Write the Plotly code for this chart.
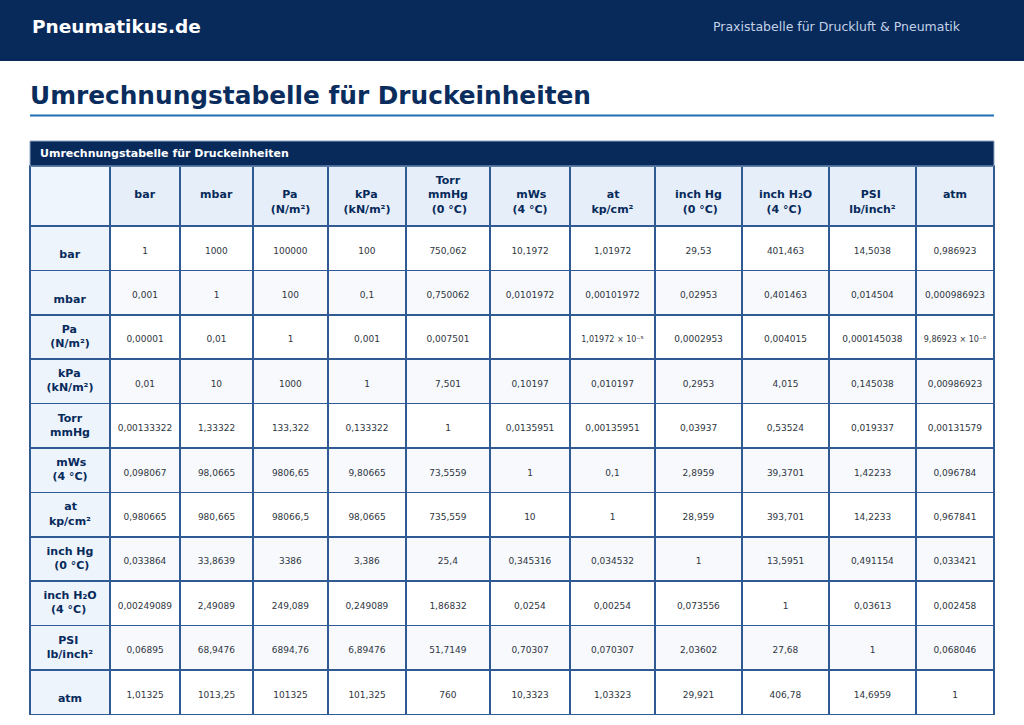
import plotly.graph_objects as go

# Einheiten (Spalten- und Zeilenköpfe)
col_units = ["bar", "mbar", "Pa<br>(N/m²)", "kPa<br>(kN/m²)", "Torr<br>mmHg<br>(0 °C)",
             "mWs<br>(4 °C)", "at<br>kp/cm²", "inch Hg<br>(0 °C)", "inch H₂O<br>(4 °C)",
             "PSI<br>lb/inch²", "atm"]
row_units = ["bar", "mbar", "Pa<br>(N/m²)", "kPa<br>(kN/m²)", "Torr<br>mmHg",
             "mWs<br>(4 °C)", "at<br>kp/cm²", "inch Hg<br>(0 °C)", "inch H₂O<br>(4 °C)",
             "PSI<br>lb/inch²", "atm"]

# Umrechnungsfaktoren, zeilenweise
bar_row = ["1", "1000", "100000", "100", "750,062", "10,1972", "1,01972", "29,53", "401,463", "14,5038", "0,986923"]
mbar_row = ["0,001", "1", "100", "0,1", "0,750062", "0,0101972", "0,00101972", "0,02953", "0,401463", "0,014504", "0,000986923"]
pa_row = ["0,00001", "0,01", "1", "0,001", "0,007501", "", "1,01972 × 10⁻⁵", "0,0002953", "0,004015", "0,000145038", "9,86923 × 10⁻⁶"]
kpa_row = ["0,01", "10", "1000", "1", "7,501", "0,10197", "0,010197", "0,2953", "4,015", "0,145038", "0,00986923"]
torr_row = ["0,00133322", "1,33322", "133,322", "0,133322", "1", "0,0135951", "0,00135951", "0,03937", "0,53524", "0,019337", "0,00131579"]
mws_row = ["0,098067", "98,0665", "9806,65", "9,80665", "73,5559", "1", "0,1", "2,8959", "39,3701", "1,42233", "0,096784"]
at_row = ["0,980665", "980,665", "98066,5", "98,0665", "735,559", "10", "1", "28,959", "393,701", "14,2233", "0,967841"]
inhg_row = ["0,033864", "33,8639", "3386", "3,386", "25,4", "0,345316", "0,034532", "1", "13,5951", "0,491154", "0,033421"]
inh2o_row = ["0,00249089", "2,49089", "249,089", "0,249089", "1,86832", "0,0254", "0,00254", "0,073556", "1", "0,03613", "0,002458"]
psi_row = ["0,06895", "68,9476", "6894,76", "6,89476", "51,7149", "0,70307", "0,070307", "2,03602", "27,68", "1", "0,068046"]
atm_row = ["1,01325", "1013,25", "101325", "101,325", "760", "10,3323", "1,03323", "29,921", "406,78", "14,6959", "1"]

rows = [bar_row, mbar_row, pa_row, kpa_row, torr_row, mws_row, at_row,
        inhg_row, inh2o_row, psi_row, atm_row]

NAVY = "#072a5b"
LINE = "#2f5a93"
TEXT = "#2f3640"
FONT = "DejaVu Sans"
NBSP = "\u00a0"

# grobe Zeichenbreiten (DejaVu Sans Bold, in em) zum Zentrieren mehrzeiliger Köpfe
BOLD_W = {" ": 0.348, "a": 0.675, "b": 0.716, "c": 0.595, "g": 0.716, "h": 0.712, "i": 0.343,
          "k": 0.665, "l": 0.343, "m": 1.042, "n": 0.712, "o": 0.687, "p": 0.716, "r": 0.493,
          "s": 0.595, "t": 0.478, "C": 0.734, "H": 0.838, "I": 0.372, "N": 0.838, "O": 0.85,
          "P": 0.733, "S": 0.72, "T": 0.682, "W": 0.99, "(": 0.457, ")": 0.457, "/": 0.365,
          "²": 0.438, "₂": 0.438, "°": 0.5, "0": 0.696, "4": 0.696}

PAD = NBSP + "<br>"  # leere Zeile oben, damit der Text mittiger sitzt


def width(s):
    return sum(BOLD_W.get(ch, 0.7) for ch in s)


def label(s, lead):
    # Zeilen fett, kürzere Zeilen mit geschützten Leerzeichen einrücken
    lines = s.split("<br>")
    wmax = max(width(l) for l in lines)
    out = []
    for l in lines:
        n = round((wmax - width(l)) / 2 / BOLD_W[" "])
        out.append("<b>%s%s</b>" % (NBSP * n, l))
    return PAD * lead + "<br>".join(out)


def cell(v):
    if "×" in v:
        return PAD + '<span style="font-size:8px">%s</span>' % v
    return PAD + v


header_vals = [""] + [label(u, 1 if u.count("<br>") < 2 else 0) for u in col_units]
columns = ([[label(u, 1 if "<br>" not in u else 0) for u in row_units]]
           + [[cell(r[j]) for r in rows] for j in range(len(col_units))])

stripe = ["#ffffff" if i % 2 == 0 else "#f7f9fd" for i in range(len(rows))]
fills = [["#eef4fc"] * len(rows)] + [stripe] * len(col_units)

fig = go.Figure(go.Table(
    domain=dict(x=[30 / 1024, 994 / 1024], y=[0, 1 - 166 / 725]),
    columnwidth=[80, 70, 73, 75, 78, 84, 80, 85, 87, 87, 87, 78],
    header=dict(
        values=header_vals,
        height=60,
        align="center",
        fill_color=["#eff5fd"] + ["#e6eef9"] * len(col_units),
        line=dict(color=LINE, width=1.5),
        font=dict(family=FONT, size=11, color=NAVY),
    ),
    cells=dict(
        values=columns,
        height=44.4,
        align="center",
        fill_color=fills,
        line=dict(color=LINE, width=1.5),
        font=dict(family=FONT, size=[11] + [9] * len(col_units),
                  color=[NAVY] + [TEXT] * len(col_units)),
    ),
))

# Kopfbereich der Seite
fig.add_shape(type="rect", xref="paper", yref="paper", x0=0, x1=1, y0=1 - 61 / 725, y1=1,
              fillcolor=NAVY, line_width=0, layer="below")
fig.add_annotation(text="<b>Pneumatikus.de</b>", xref="paper", yref="paper", x=30 / 1024, y=1 - 27 / 725,
                   xanchor="left", yanchor="middle", showarrow=False,
                   font=dict(family=FONT, size=18.5, color="white"))
fig.add_annotation(text="Praxistabelle für Druckluft & Pneumatik", xref="paper", yref="paper",
                   x=963 / 1024, y=1 - 27 / 725, xanchor="right", yanchor="middle", showarrow=False,
                   font=dict(family=FONT, size=12.5, color="#c3d1e6"))
fig.add_annotation(text="<b>Umrechnungstabelle für Druckeinheiten</b>", xref="paper", yref="paper",
                   x=28 / 1024, y=1 - 96 / 725, xanchor="left", yanchor="middle", showarrow=False,
                   font=dict(family=FONT, size=24.8, color="#0b2d5e"))
fig.add_shape(type="line", xref="paper", yref="paper", x0=30 / 1024, x1=994 / 1024,
              y0=1 - 115.5 / 725, y1=1 - 115.5 / 725, line=dict(color="#1f6db5", width=2))

# Titelleiste der Tabelle
fig.add_shape(type="rect", xref="paper", yref="paper", x0=30 / 1024, x1=994 / 1024,
              y0=1 - 166 / 725, y1=1 - 141 / 725, fillcolor=NAVY, line=dict(color="#8fa6c6", width=1))
fig.add_annotation(text="<b>Umrechnungstabelle für Druckeinheiten</b>", xref="paper", yref="paper",
                   x=38 / 1024, y=1 - 153.5 / 725, xanchor="left", yanchor="middle", showarrow=False,
                   font=dict(family=FONT, size=11, color="white"))

fig.update_layout(width=1024, height=725, margin=dict(l=0, r=0, t=0, b=0),
                  paper_bgcolor="white", plot_bgcolor="white", font=dict(family=FONT))
fig.write_html("out.html", config={"displayModeBar": False},
               post_script="document.body.style.margin='0px';")
